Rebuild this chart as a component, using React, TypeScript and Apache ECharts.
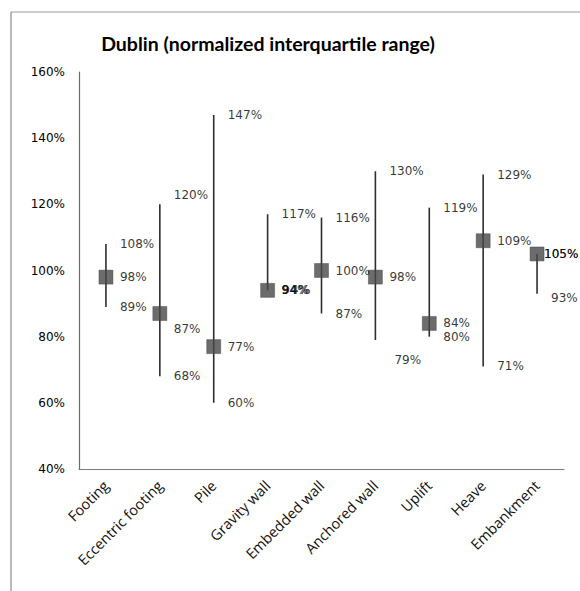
import React, { useEffect, useRef } from "react";
import * as echarts from "echarts";

const categories = [
  "Footing",
  "Eccentric footing",
  "Pile",
  "Gravity wall",
  "Embedded wall",
  "Anchored wall",
  "Uplift",
  "Heave",
  "Embankment",
];
const highValues = [108, 120, 147, 117, 116, 130, 119, 129, 105];
const medianValues = [98, 87, 77, 94, 100, 98, 84, 109, 105];
const lowValues = [89, 68, 60, 94, 87, 79, 80, 71, 93];
const yTicks = { min: 40, max: 160, interval: 20 };

// label placement tweaks (styling only), keyed by category index
const highOffsets: Record<number, number[]> = { 1: [0, -9], 8: [-7, 0] };
const medianOffsets: Record<number, number[]> = { 1: [0, 15], 8: [-7, 0] };
const lowOffsets: Record<number, number[]> = { 5: [5, 20], 8: [0, 4] };
const boldMedian: Record<number, boolean> = { 3: true };

const LABEL_FONT = "DejaVu Sans";

function labelSeries(name: string, values: number[], offsets: Record<number, number[]>, bold?: Record<number, boolean>) {
  return {
    name,
    type: "scatter",
    symbol: "circle",
    symbolSize: 2,
    itemStyle: { color: "rgba(0,0,0,0)" },
    z: 5,
    silent: true,
    data: values.map((v, i) => ({
      value: [categories[i], v],
      label: {
        offset: offsets[i] || [0, 0],
        fontWeight: bold && bold[i] ? "bold" : "normal",
      },
    })),
    label: {
      show: true,
      position: "right",
      distance: 13,
      color: "#000000",
      fontSize: 12,
      fontFamily: LABEL_FONT,
      formatter: (p: any) => p.value[1] + "%",
    },
  };
}

export default function App() {
  const ref = useRef<HTMLDivElement>(null);

  useEffect(() => {
    document.body.style.margin = "0";
    const chart = echarts.init(ref.current!, undefined, { renderer: "svg" });
    const option: any = {
      animation: false,
      backgroundColor: "#ffffff",
      title: {
        text: "Dublin (normalized interquartile range)",
        left: 268,
        top: 33,
        textAlign: "center",
        padding: 0,
        textStyle: {
          fontFamily: "Lato",
          fontWeight: "bold",
          fontSize: 19.5,
          color: "#000",
        },
      },
      graphic: [
        {
          type: "line",
          shape: { x1: 11, y1: 12, x2: 580, y2: 12 },
          style: { stroke: "#9a9a9a", lineWidth: 1 },
          silent: true,
        },
        {
          type: "line",
          shape: { x1: 11, y1: 12, x2: 11, y2: 591 },
          style: { stroke: "#8a8a8a", lineWidth: 1.2 },
          silent: true,
        },
      ],
      grid: { left: 79, top: 72, right: 16, bottom: 122, containLabel: false },
      xAxis: {
        type: "category",
        data: categories,
        boundaryGap: true,
        axisLine: { show: true, lineStyle: { color: "#7a7a7a", width: 1.2 } },
        axisTick: { show: false },
        axisLabel: {
          interval: 0,
          rotate: 45,
          margin: 14,
          fontSize: 14.5,
          color: "#111111",
          fontFamily: "Open Sans",
        },
        splitLine: { show: false },
      },
      yAxis: {
        type: "value",
        min: yTicks.min,
        max: yTicks.max,
        interval: yTicks.interval,
        axisLine: { show: true, lineStyle: { color: "#6a6a6a", width: 1.2 } },
        axisTick: { show: false },
        splitLine: { show: false },
        axisLabel: {
          margin: 14,
          fontSize: 12,
          color: "#000000",
          fontFamily: LABEL_FONT,
          formatter: "{value}%",
        },
      },
      series: [
        {
          name: "range",
          type: "custom",
          z: 2,
          silent: true,
          data: categories.map((c, i) => [i, lowValues[i], highValues[i]]),
          encode: { x: 0, y: [1, 2] },
          renderItem: (params: any, api: any) => {
            const x = api.value(0);
            const p1 = api.coord([x, api.value(1)]);
            const p2 = api.coord([x, api.value(2)]);
            return {
              type: "line",
              shape: { x1: p1[0], y1: p1[1], x2: p2[0], y2: p2[1] },
              style: { stroke: "#2e2e2e", lineWidth: 1.6 },
            };
          },
        },
        {
          name: "median",
          type: "scatter",
          symbol: "rect",
          symbolSize: 14,
          z: 3,
          silent: true,
          itemStyle: { color: "#474747", borderColor: "#3a3a3a", borderWidth: 0.5 },
          data: medianValues.map((v, i) => [categories[i], v]),
        },
        labelSeries("highLabels", highValues, highOffsets),
        labelSeries("lowLabels", lowValues, lowOffsets),
        labelSeries("medianLabels", medianValues, medianOffsets, boldMedian),
      ],
    };
    chart.setOption(option);
    return () => chart.dispose();
  }, []);

  return <div ref={ref} style={{ width: 580, height: 591 }} />;
}
